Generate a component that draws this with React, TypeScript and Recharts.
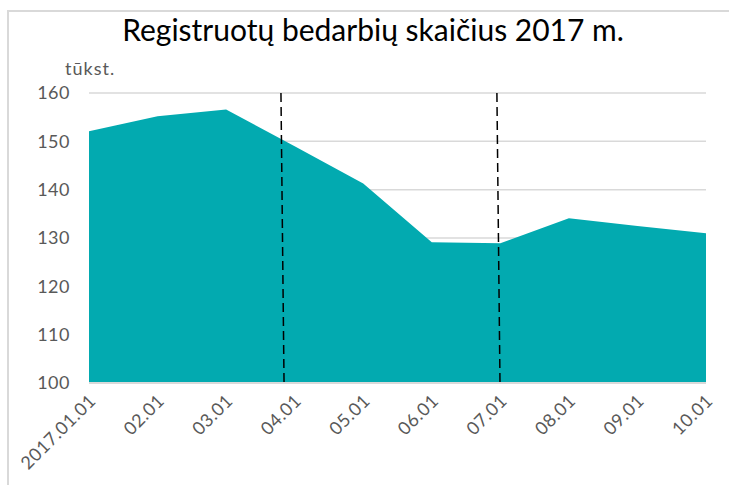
import { AreaChart, Area, XAxis, YAxis, CartesianGrid, ReferenceLine } from 'recharts';

const months = ['2017.01.01', '02.01', '03.01', '04.01', '05.01', '06.01', '07.01', '08.01', '09.01', '10.01'];
const unemployed = [152.1, 155.2, 156.6, 149.0, 141.3, 129.1, 128.9, 134.1, 132.5, 131.0];
const yTicks = [100, 110, 120, 130, 140, 150, 160];
// dashed markers, drawn by hand in the original so slightly off the category points
const markerTop = [2.8, 5.95];
const markerBottom = [2.845, 5.995];

const data = months.map((m, i) => ({ idx: i, label: m, value: unemployed[i] }));

const FONT = 'Lato, "Noto Sans", sans-serif';

const XTick = ({ x, y, payload }: any) => (
  <text
    x={x - 1}
    y={y + 2}
    transform={`rotate(-45 ${x - 1} ${y + 2})`}
    textAnchor="end"
    dy="0.7em"
    fill="#595959"
    fontSize={18}
    letterSpacing={0.5}
    fontFamily={FONT}
  >
    {months[payload.value]}
  </text>
);

export default function App() {
  return (
    <div style={{ position: 'absolute', left: 0, top: 0, width: 729, height: 485, background: '#fff', overflow: 'hidden' }}>
      <div
        style={{
          position: 'absolute', left: 7, top: 10, width: 740, height: 490,
          borderLeft: '2px solid #d9d9d9', borderTop: '2px solid #d9d9d9',
        }}
      />
      <div
        style={{
          position: 'absolute', left: 0, top: 11, width: 746, textAlign: 'center',
          fontFamily: FONT, fontSize: 30, color: '#000',
        }}
      >
        Registruotų bedarbių skaičius 2017 m.
      </div>
      <div style={{ position: 'absolute', left: 65, top: 57, fontFamily: FONT, fontSize: 18, letterSpacing: 1, color: '#595959' }}>
        tūkst.
      </div>
      <div style={{ position: 'absolute', left: 0, top: 0 }}>
        <AreaChart width={729} height={485} data={data} margin={{ top: 93, right: 23, bottom: 0, left: 29 }}>
          <CartesianGrid horizontal vertical={false} stroke="#d9d9d9" strokeWidth={1.5} />
          <XAxis
            type="number"
            dataKey="idx"
            domain={[0, 9]}
            ticks={months.map((_, i) => i)}
            tick={<XTick />}
            tickLine={false}
            axisLine={{ stroke: '#d9d9d9', strokeWidth: 2 }}
            interval={0}
            height={102}
          />
          <YAxis
            domain={[100, 160]}
            ticks={yTicks}
            width={60}
            tickLine={false}
            axisLine={false}
            tickSize={0}
            tickMargin={19}
            tick={{ fill: '#595959', fontSize: 18, fontFamily: FONT, letterSpacing: 0.5 }}
          />
          <Area
            type="linear"
            dataKey="value"
            fill="#02aab0"
            fillOpacity={1}
            stroke="none"
            baseValue={100}
            isAnimationActive={false}
          />
          {markerTop.map((t, i) => (
            <ReferenceLine
              key={i}
              segment={[{ x: t, y: 160 }, { x: markerBottom[i], y: 100 }]}
              stroke="#000"
              strokeWidth={1.5}
              strokeDasharray="9 5"
            />
          ))}
        </AreaChart>
      </div>
    </div>
  );
}
